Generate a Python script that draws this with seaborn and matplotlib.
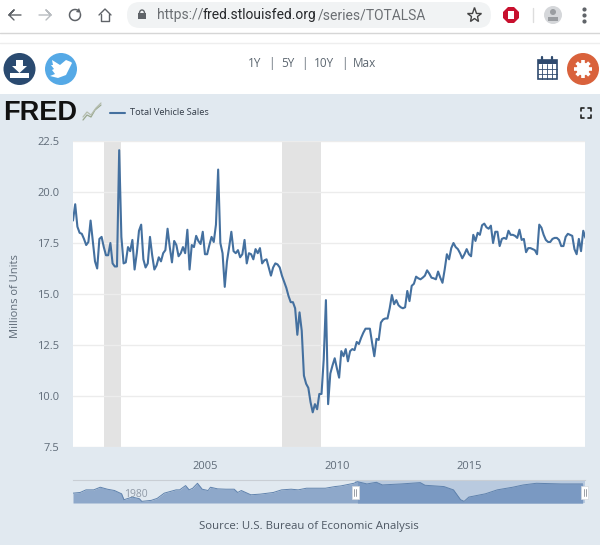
import numpy as np
import pandas as pd
import matplotlib
matplotlib.use("Agg")
import matplotlib.pyplot as plt
from matplotlib.patches import Circle, Rectangle, FancyBboxPatch, Polygon, Arc
import seaborn as sns

# ---- Total Vehicle Sales, millions of units, monthly ----
y2000 = [18.6,19.4,18.3,18.0,17.95,17.7,17.4,17.55,18.6,17.6,16.6,16.25]
y2001 = [17.7,17.8,17.3,16.9,16.9,17.5,16.5,16.35,16.35,22.05,17.8,16.5]
y2002 = [16.55,17.3,17.1,17.65,16.2,17.0,18.1,18.4,16.7,16.3,16.5,17.8]
y2003 = [16.9,16.2,16.4,16.8,16.6,17.0,17.15,18.2,17.3,16.55,17.6,17.4]
y2004 = [16.85,17.0,17.3,17.0,18.15,16.2,17.4,17.3,17.85,17.6,17.45,18.05]
y2005 = [16.95,16.95,17.4,17.8,17.55,18.4,21.1,17.5,17.0,15.35,16.6,17.3]
y2006 = [18.05,17.1,17.0,17.15,16.8,16.95,17.65,16.5,17.0,16.95,16.7,17.2]
y2007 = [17.0,17.25,16.5,16.65,16.7,16.3,15.9,16.3,16.5,16.45,16.3,15.9]
y2008 = [15.6,15.3,14.9,14.6,14.6,14.3,13.0,14.1,13.2,11.0,10.6,10.4]
y2009 = [9.7,9.2,9.6,9.35,10.1,10.1,11.8,14.7,9.6,11.1,11.5,11.85]
y2010 = [11.35,10.9,12.2,11.95,12.3,11.7,12.2,12.3,12.25,12.65,12.55,12.85]
y2011 = [13.1,13.3,13.3,13.3,12.6,11.95,12.8,12.75,13.6,13.75,13.8,13.8]
y2012 = [14.3,14.95,14.5,14.7,14.45,14.35,14.3,14.35,15.15,14.65,15.4,15.5]
y2013 = [15.85,15.77,15.72,15.8,15.9,16.16,16.0,15.8,15.77,15.72,16.1,15.8]
y2014 = [15.55,16.2,16.95,16.7,17.25,17.5,17.3,17.2,17.0,16.75,16.95,17.2]
y2015 = [16.95,16.85,17.9,17.6,18.0,17.9,18.37,18.45,18.27,18.2,18.35,17.5]
y2016 = [18.05,18.05,17.35,17.7,17.75,17.7,18.1,17.9,17.9,17.85,17.75,18.15]
y2017 = [17.65,17.7,17.05,17.25,17.25,17.2,17.15,16.95,18.4,18.25,17.9,17.65]
y2018 = [17.55,17.55,17.7,17.75,17.75,17.65,17.35,17.35,17.8,17.95,17.9,17.85]
y2019 = [17.2,16.95,17.7,17.1,18.1,17.75]

recessions = [(2001.17, 2001.80), (2007.92, 2009.40)]
y_ticks = [7.5, 10.0, 12.5, 15.0, 17.5, 20.0, 22.5]
x_ticks = [2005, 2010, 2015]

# overview strip: year and estimated level in the strip
nav_years = [1976.2,1976.8,1977.3,1977.95,1978.5,1979.1,1979.7,1980.3,1980.5,1981.2,
             1981.8,1982.0,1982.8,1983.3,1983.9,1984.9,1985.2,1985.7,1986.0,1986.3,
             1986.7,1987.1,1987.6,1987.8,1988.4,1989.1,1989.8,1990.1,1990.4,1991.2,
             1992.0,1993.1,1993.8,1994.6,1995.2,1995.9,1997.5,1998.3,1998.8,1999.9,
             2000.2,2001.0,2001.8,2002.3,2003.9,2005.5,2005.9,2007.5,2008.3,2008.9,
             2009.2,2009.6,2011.0,2012.0,2013.3,2014.2,2015.3,2017.4,2019.2]
nav_level = [30,32,40,40,48,42,38,28,10,18,13,5,8,14,30,40,40,53,40,45,60,42,38,48,
             43,42,42,32,38,25,27,32,40,42,40,45,45,50,52,60,65,58,63,55,58,62,54,50,
             40,10,5,18,28,40,48,55,60,58,58]

series = [y2000,y2001,y2002,y2003,y2004,y2005,y2006,y2007,y2008,y2009,
          y2010,y2011,y2012,y2013,y2014,y2015,y2016,y2017,y2018,y2019]
values = np.concatenate(series)
df = pd.DataFrame({"year": 2000 + np.arange(len(values)) / 12, "sales": values})
nav = pd.DataFrame({"year": nav_years, "level": nav_level})

sns.set_theme(style="white")
plt.rcParams["font.family"] = ["Open Sans", "DejaVu Sans"]

PANEL = "#e1e9f0"
LINE = "#44709f"
TXT = "#5f6b78"
W, H = 600, 545
fig = plt.figure(figsize=(W / 100, H / 100), dpi=100, facecolor="white")

# ---- page chrome, in pixel coordinates ----
bg = fig.add_axes([0, 0, 1, 1], zorder=0)
bg.set_xlim(0, W); bg.set_ylim(H, 0); bg.axis("off")
bg.add_patch(Rectangle((0, 94), W, H - 94, color=PANEL, lw=0))
bg.add_patch(FancyBboxPatch((127, 2), 364, 26, boxstyle="round,pad=0,rounding_size=13",
                            mutation_aspect=1, fc="#f1f3f4", ec="none"))
bg.plot([0, W], [32.5, 32.5], color="#d6d6d6", lw=1)
bg.plot([0, W], [42.5, 42.5], color="#eeeeee", lw=1)

gc = "#5f6368"
bg.plot([21, 9, 14, 9, 14], [15, 15, 10, 15, 20], color=gc, lw=1.0)
bg.plot([39, 51, 46, 51, 46], [15, 15, 10, 15, 20], color="#b8bcc0", lw=1.0)
bg.add_patch(Arc((75, 15), 11, 11, theta1=-20, theta2=300, color=gc, lw=1.1))
bg.add_patch(Polygon([[79, 8], [81, 13], [76, 12]], color=gc, lw=0))
bg.plot([99, 105, 111], [15, 9, 15], color=gc, lw=1.0)
bg.plot([101, 101, 109, 109], [14, 21, 21, 14], color=gc, lw=1.0)
bg.add_patch(Rectangle((138, 13), 8, 6, color=gc, lw=0))
bg.add_patch(Arc((142, 13), 5, 6, theta1=180, theta2=360, color=gc, lw=1))
bg.text(157.5, 15.5, "https://", color="#6b6f73", fontsize=10, family="Roboto", va="center")
bg.text(203, 15.5, "fred.stlouisfed.org", color="#26282b", fontsize=10, family="Roboto", va="center")
bg.text(317.5, 15.5, "/series/TOTALSA", color="#6b6f73", fontsize=10, family="Roboto", va="center")
bg.plot([474], [15], marker="*", ms=11, mfc="none", mec="#444444", mew=1)
bg.plot([511], [15], marker="8", ms=13, color="#c8102e", mew=0, zorder=3)
bg.add_patch(Rectangle((508, 10.5), 6, 8.5, color="white", lw=0, zorder=4))
bg.plot([533, 533], [8, 22], color="#dddddd", lw=1)
bg.add_patch(Circle((553, 15), 9, color="#d5d7da", lw=0))
bg.add_patch(Circle((553, 12), 3, color="#9a9da1", lw=0))
bg.add_patch(Rectangle((548, 17), 10, 4, color="#9a9da1", lw=0))
bg.plot([584] * 3, [9, 15, 21], ls="none", marker="o", ms=2, color="#5f6368")

# toolbar icons
bg.add_patch(Circle((19.5, 69), 16, color="#2a4a70", lw=0))
bg.add_patch(Polygon([[16, 60], [23, 60], [23, 66], [27, 66], [19.5, 73], [12, 66], [16, 66]], color="white", lw=0))
bg.add_patch(Rectangle((10, 73), 19, 5, color="white", lw=0))
bg.add_patch(Circle((61, 69), 16, color="#55a9e6", lw=0))
bg.add_patch(Polygon([[52, 60], [60, 65], [66, 60], [71, 62], [72, 63], [70, 67], [66, 75], [58, 78],
                     [50, 76], [55, 74], [52, 70], [54, 69], [51, 65], [53, 65]], color="white", lw=0))
bg.add_patch(Rectangle((537.5, 60), 19, 19, fc="none", ec="#2f4a6e", lw=1.2))
bg.add_patch(Rectangle((537.5, 60), 19, 4, color="#2f4a6e", lw=0))
for v in (542.3, 547, 551.7):
    bg.plot([v, v], [64, 79], color="#2f4a6e", lw=0.6)
for v in (69, 74):
    bg.plot([537.5, 556.5], [v, v], color="#2f4a6e", lw=0.6)
for v in (542, 552):
    bg.plot([v, v], [57, 62], color="#2f4a6e", lw=1.6)
bg.add_patch(Circle((583, 69), 16, color="#d9623c", lw=0))
for a in np.arange(0, np.pi, np.pi / 4):
    bg.plot([583 - 9 * np.cos(a), 583 + 9 * np.cos(a)], [69 - 9 * np.sin(a), 69 + 9 * np.sin(a)],
            color="white", lw=2.6, solid_capstyle="butt")
bg.add_patch(Circle((583, 69), 6.5, color="white", lw=0))
bg.add_patch(Circle((583, 69), 3, color="#d9623c", lw=0))
for label, px in zip(["1Y", "|", "5Y", "|", "10Y", "|", "Max"], [255, 271, 288, 304, 324, 344, 365]):
    bg.text(px, 63.5, label, ha="center", va="center", fontsize=8.5, color="#5c6670")

# header of the chart panel
bg.text(3, 113, "FRED", fontsize=19.5, fontweight="bold", family="Liberation Sans",
        color="#111111", va="center", ha="left")
bg.plot([83, 87, 91, 95, 101], [120, 115, 117, 110, 105], color="#9aa88f", lw=0.9)
bg.plot([83, 87, 91, 96, 101], [117, 112, 115, 108, 103], color="#b5bdae", lw=0.9)
bg.plot([110, 125], [112.5, 112.5], color=LINE, lw=1.5)
bg.text(130, 112.5, "Total Vehicle Sales", fontsize=6.7, color="#333c48", va="center")
for cx, cy, dx, dy in [(581, 108, 1, 1), (591, 108, -1, 1), (581, 118, 1, -1), (591, 118, -1, -1)]:
    bg.plot([cx + 3 * dx, cx, cx], [cy, cy, cy + 3 * dy], color="#222222", lw=1.2)
bg.text(16, 296, "Millions of Units", rotation=90, ha="center", va="center", fontsize=8, color=TXT)
bg.text(309, 526, "Source: U.S. Bureau of Economic Analysis", ha="center", va="center",
        fontsize=8.2, color="#4d5763")

# ---- main chart ----
ax = fig.add_axes([73 / W, (H - 447) / H, 512 / W, 306 / H], zorder=1, facecolor="white")
for start, end in recessions:
    ax.axvspan(start, end, color="#e3e3e3", lw=0, zorder=0.5)
ax.set_yticks(y_ticks)
ax.set_xticks(x_ticks)
ax.yaxis.grid(True, color="#ececec", lw=1, zorder=1)
ax.xaxis.grid(False)
sns.lineplot(data=df, x="year", y="sales", ax=ax, color=LINE, lw=1.5, zorder=3, errorbar=None)
ax.set_xlim(2000, 2019.4)
ax.set_ylim(7.5, 22.5)
ax.set_xlabel(""); ax.set_ylabel("")
ax.set_yticklabels([f"{v:.1f}" for v in y_ticks])
ax.set_xticklabels([str(v) for v in x_ticks])
ax.tick_params(axis="y", length=0, pad=10, labelsize=8, labelcolor=TXT)
ax.tick_params(axis="x", length=0, pad=10, labelsize=8, labelcolor=TXT)
sns.despine(ax=ax, left=True, bottom=True)

# ---- overview strip ----
nv = fig.add_axes([73 / W, (H - 503) / H, 512 / W, 23 / H], zorder=1)
nv.patch.set_alpha(0)
nv.axvspan(2000, 2019.4, color="#b9cadf", lw=0, zorder=0)
mask = nav["year"] >= 2000
nv.fill_between(nav["year"], 0, nav["level"], color="#8ea8ca", lw=0, zorder=1)
nv.fill_between(nav["year"][mask], 0, nav["level"][mask], color="#7a99c2", lw=0, zorder=1.5)
sns.lineplot(data=nav, x="year", y="level", ax=nv, color="#5f82ad", lw=0.7, zorder=2, errorbar=None)
nv.text(1981.5, 26, "1980", fontsize=7.5, color="#8f99a6", ha="center", va="center", zorder=3)
nv.set_xlim(1976.2, 2019.4)
nv.set_ylim(0, 70)
nv.set_xlabel(""); nv.set_ylabel("")
nv.set_xticks([]); nv.set_yticks([])
sns.despine(ax=nv, left=True, bottom=True, right=True, top=False)
nv.spines["top"].set_color("#c9ced4")
nv.spines["top"].set_linewidth(0.8)

# strip handles
top = fig.add_axes([0, 0, 1, 1], zorder=2)
top.set_xlim(0, W); top.set_ylim(H, 0); top.axis("off")
for hx in (355, 584.5):
    top.add_patch(Rectangle((hx - 3.5, 486), 7, 13, fc="white", ec="#d5d9de", lw=0.5))
    top.plot([hx - 1, hx - 1], [489, 496], color="#8a8f96", lw=0.6)
    top.plot([hx + 1, hx + 1], [489, 496], color="#8a8f96", lw=0.6)

fig.savefig("out.png", dpi=100, facecolor=fig.get_facecolor())
